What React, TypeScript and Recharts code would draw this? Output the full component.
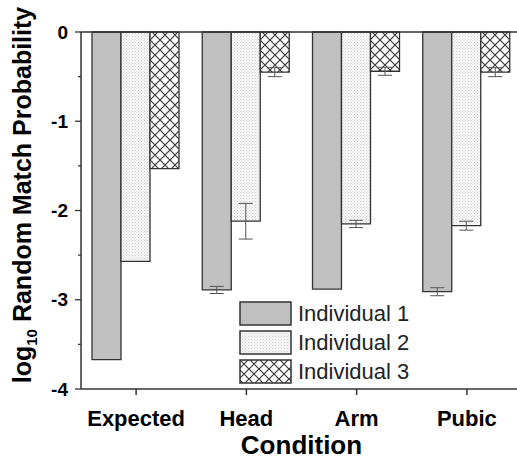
import { BarChart, Bar, XAxis, YAxis, ErrorBar, ReferenceLine } from 'recharts';

const categories = ['Expected', 'Head', 'Arm', 'Pubic'];
const individual1 = [-3.67, -2.89, -2.88, -2.91];
const individual2 = [-2.57, -2.12, -2.15, -2.17];
const individual3 = [-1.53, -0.45, -0.44, -0.45];
const error1 = [null, 0.04, null, 0.045];
const error2 = [null, 0.2, 0.04, 0.05];
const error3 = [null, 0.05, 0.045, 0.05];
const yTicks = [0, -0.5, -1, -1.5, -2, -2.5, -3, -3.5, -4];
const seriesNames = ['Individual 1', 'Individual 2', 'Individual 3'];

const data = categories.map((name, i) => ({
  name,
  i1: individual1[i],
  i2: individual2[i],
  i3: individual3[i],
  e1: error1[i],
  e2: error2[i],
  e3: error3[i],
}));

const FONT = '"Liberation Sans", Arial, sans-serif';
const EDGE = '#333';

const Patterns = ({ suffix }: { suffix: string }) => (
  <defs>
    <pattern id={`dots${suffix}`} width="3" height="3" patternUnits="userSpaceOnUse">
      <rect width="3" height="3" fill="#f6f6f6" />
      <rect x="0" y="0" width="1" height="1" fill="#d2d2d2" />
      <rect x="1.5" y="1.5" width="1" height="1" fill="#e0e0e0" />
    </pattern>
    <pattern id={`hatch${suffix}`} width="10" height="10" patternUnits="userSpaceOnUse">
      <rect width="10" height="10" fill="#fff" />
      <path d="M0,0 L10,10 M10,0 L0,10 M-1,9 L1,11 M9,-1 L11,1" stroke="#3a3a3a" strokeWidth="1.2" />
    </pattern>
  </defs>
);

const fills = (suffix: string) => ['#c0c0c0', `url(#dots${suffix})`, `url(#hatch${suffix})`];

const YTick = (props: any) => {
  const { x, y, payload } = props;
  const v = payload.value;
  const major = Number.isInteger(v);
  return (
    <g>
      <line x1={x - (major ? 6 : 3)} x2={x} y1={y} y2={y} stroke={EDGE} strokeWidth={1.3} />
      {major && (
        <text x={x - 13} y={y} dy="0.35em" textAnchor="end" fontFamily={FONT} fontWeight="bold" fontSize={19} fill="#000">
          {v === 0 ? '0' : String(v)}
        </text>
      )}
    </g>
  );
};

const YLabel = () => (
  <text
    x={31}
    y={195}
    transform="rotate(-90, 31, 195)"
    textAnchor="middle"
    fontFamily={FONT}
    fontWeight="bold"
    fontSize={25}
    fill="#000"
  >
    log
    <tspan fontSize={15} dy={6}>10</tspan>
    <tspan dy={-6}> Random Match Probability</tspan>
  </text>
);

const LegendBox = () => {
  const f = fills('L');
  return (
    <div style={{ position: 'absolute', left: 239, top: 299, fontFamily: FONT }}>
      {seriesNames.map((n, i) => (
        <div key={n} style={{ display: 'flex', alignItems: 'center', height: 29 }}>
          <svg width={54} height={26}>
            <Patterns suffix="L" />
            <rect x={1} y={1} width={51} height={23} fill={f[i]} stroke={EDGE} strokeWidth={1.5} />
          </svg>
          <span style={{ fontSize: 22, color: '#222', marginLeft: 5 }}>{n}</span>
        </div>
      ))}
    </div>
  );
};

export default function App() {
  const f = fills('C');
  return (
    <div style={{ position: 'absolute', left: 0, top: 0, width: 517, height: 460, overflow: 'hidden', background: '#fff' }}>
      <BarChart
        width={530}
        height={460}
        data={data}
        margin={{ top: 32, right: 8, left: 0, bottom: 0 }}
        barCategoryGap={11}
        barGap={0}
      >
        <Patterns suffix="C" />
        <XAxis
          dataKey="name"
          height={71}
          stroke={EDGE}
          strokeWidth={1.5}
          tickSize={6}
          tickMargin={15}
          tick={{ fontFamily: FONT, fontWeight: 'bold', fontSize: 22, fill: '#000' }}
          label={{
            value: 'Condition',
            position: 'insideBottom',
            offset: 6,
            style: { fontFamily: FONT, fontWeight: 'bold', fontSize: 26, fill: '#000' },
          }}
        />
        <YAxis
          width={81}
          domain={[-4, 0]}
          ticks={yTicks}
          interval={0}
          stroke={EDGE}
          strokeWidth={1.5}
          tickLine={false}
          tickSize={0}
          tickMargin={0}
          tick={<YTick />}
          label={{ content: () => <YLabel /> }}
        />
        <ReferenceLine y={0} stroke={EDGE} strokeWidth={1.5} />
        <Bar dataKey="i1" name="Individual 1" fill={f[0]} stroke={EDGE} strokeWidth={1.3} isAnimationActive={false}>
          <ErrorBar dataKey="e1" width={7} stroke="#555" strokeWidth={1} direction="y" />
        </Bar>
        <Bar dataKey="i2" name="Individual 2" fill={f[1]} stroke={EDGE} strokeWidth={1.3} isAnimationActive={false}>
          <ErrorBar dataKey="e2" width={7} stroke="#555" strokeWidth={1} direction="y" />
        </Bar>
        <Bar dataKey="i3" name="Individual 3" fill={f[2]} stroke={EDGE} strokeWidth={1.3} isAnimationActive={false}>
          <ErrorBar dataKey="e3" width={7} stroke="#555" strokeWidth={1} direction="y" />
        </Bar>
      </BarChart>
      <LegendBox />
    </div>
  );
}
